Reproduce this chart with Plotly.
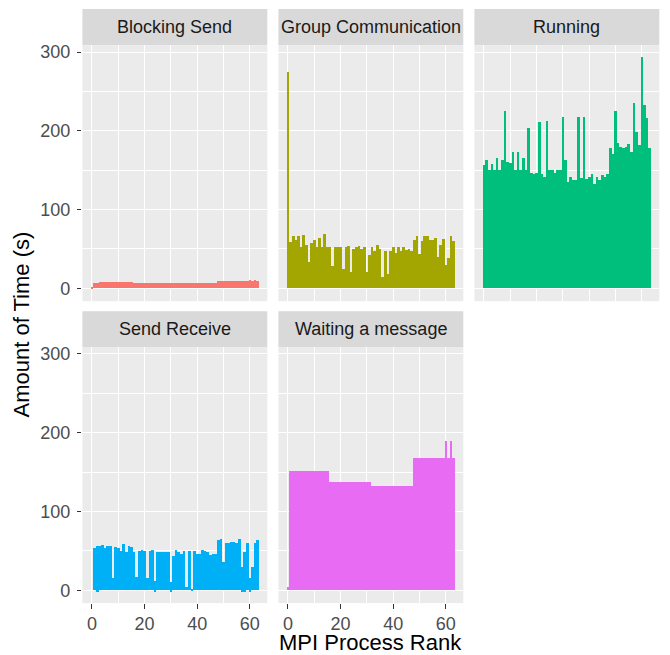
import plotly.graph_objects as go

ranks = list(range(64))

panel_titles = ["Blocking Send", "Group Communication", "Running", "Send Receive", "Waiting a message"]
panel_colors = ["#F8766D", "#A3A500", "#00BF7D", "#00B0F6", "#E76BF3"]

blocking_send = [0.8, 7.0, 7.0, 8.4, 8.4, 8.4, 8.4, 8.4, 8.4, 8.4, 8.4, 8.4, 8.4, 8.4, 8.4, 8.4,
                 7.0, 7.0, 7.0, 7.0, 7.0, 7.0, 7.0, 7.0, 7.0, 7.0, 7.0, 7.0, 7.0, 7.0, 7.0, 7.0,
                 7.0, 7.0, 7.0, 7.0, 7.0, 7.0, 7.0, 7.0, 7.0, 7.0, 7.0, 7.0, 7.0, 7.0, 7.0, 7.0,
                 9.7, 9.7, 9.7, 9.7, 9.7, 9.7, 9.7, 9.7, 9.7, 9.7, 9.7, 9.7, 11.0, 9.7, 11.0, 9.7]

group_communication = [275, 59, 67, 62, 67, 53, 68, 55, 33, 58, 62, 53, 64, 53, 69, 53,
                       52, 28, 52, 53, 52, 24, 53, 54, 21, 50, 52, 54, 50, 53, 21, 43,
                       52, 47, 55, 50, 14, 48, 18, 48, 52, 45, 53, 47, 52, 49, 50, 47,
                       62, 67, 44, 60, 66, 66, 62, 62, 64, 40, 55, 63, 30, 39, 66, 60]

running = [156, 163, 150, 158, 150, 166, 150, 163, 225, 161, 159, 173, 150, 173, 150, 166,
           150, 203, 147, 145, 146, 211, 145, 142, 213, 150, 150, 147, 150, 150, 217, 163,
           135, 142, 137, 137, 218, 140, 218, 139, 141, 145, 132, 141, 137, 144, 141, 145,
           178, 171, 225, 184, 179, 178, 180, 183, 173, 235, 199, 182, 294, 233, 216, 178]

send_receive = [0, 54, 56.5, 56.5, 57.8, 54, 56.5, 56.5, 16, 55, 54, 50, 59, 49, 56.5, 55,
                49, 17, 50, 51.5, 50, 15, 50, 51.5, 12, 48, 48, 48, 48, 48, 10, 44,
                51.5, 48, 46, 50, 3.6, 50, 2.2, 50, 46, 46, 51.5, 50, 49, 45, 46, 46,
                64, 65, 36, 60, 60, 61.6, 61.6, 60, 65, 29, 49, 60, 15, 30, 60, 64]

send_receive_neg = [0, 0, -1.4, 0, 0, 0, 0, 0, 0, 0, 0, 0, 0, 0, 0, 0,
                    0, 0, 0, 0, 0, 0, 0, 0, -1.4, 0, 0, 0, 0, 0, -1.4, 0,
                    0, 0, 0, 0, 0, 0, 0, 0, 0, 0, 0, 0, 0, 0, 0, 0,
                    0, 0, 0, 0, 0, 0, 0, 0, 0, -1.4, -1.4, 0, -1.4, 0, 0, 0]

waiting = [4.6, 152, 152, 152, 152, 152, 152, 152, 152, 152, 152, 152, 152, 152, 152, 152,
           138, 138, 138, 138, 138, 138, 138, 138, 138, 138, 138, 138, 138, 138, 138, 138,
           132, 132, 132, 132, 132, 132, 132, 132, 132, 132, 132, 132, 132, 132, 132, 132,
           168.5, 168.5, 168.5, 168.5, 168.5, 168.5, 168.5, 168.5, 168.5, 168.5, 168.5, 168.5,
           190, 168.5, 190, 168.5]

x_ticks = [0, 20, 40, 60]
y_ticks = [0, 100, 200, 300]

W, H = 670, 655
def px(x):
    return x / W
def py(y):
    return 1 - y / H

col_dom = [(82.4, 267.3), (278.4, 463.3), (474.4, 659.3)]
row_dom = [(42.3, 299.6), (345.6, 602.9)]
strip_dom = [(6.0, 42.3), (309.7, 345.6)]

positions = [(0, 0), (0, 1), (0, 2), (1, 0), (1, 1)]
series = [blocking_send, group_communication, running, send_receive, waiting]

fig = go.Figure()
layout = dict(
    width=W, height=H,
    margin=dict(l=0, r=0, t=0, b=0),
    paper_bgcolor="white",
    plot_bgcolor="#EBEBEB",
    barmode="relative",
    showlegend=False,
    font=dict(family="Liberation Sans, Arial, sans-serif", color="#4D4D4D"),
)
shapes = []
annotations = []

for i, (r, c) in enumerate(positions):
    k = "" if i == 0 else str(i + 1)
    xa, ya = "x" + k, "y" + k
    fig.add_trace(go.Bar(x=ranks, y=series[i], width=1.0, marker_color=panel_colors[i],
                         marker_line_width=0, xaxis=xa, yaxis=ya, hoverinfo="x+y"))
    if i == 3:
        fig.add_trace(go.Bar(x=ranks, y=send_receive_neg, width=1.0, marker_color=panel_colors[i],
                             marker_line_width=0, xaxis=xa, yaxis=ya, hoverinfo="x+y"))
    show_x = r == 1
    show_y = c == 0
    layout["xaxis" + k] = dict(
        domain=[px(col_dom[c][0]), px(col_dom[c][1])],
        anchor=ya, range=[-3.645, 66.645], tickvals=x_ticks,
        showgrid=True, gridcolor="white", gridwidth=1.4,
        minor=dict(tickvals=[10, 30, 50], showgrid=True, gridcolor="white", gridwidth=0.7),
        zeroline=False, showline=False,
        showticklabels=show_x, ticks="outside" if show_x else "",
        ticklen=4.5, tickwidth=1.2, tickcolor="#333333",
        tickfont=dict(size=18, color="#4D4D4D"), fixedrange=True,
    )
    layout["yaxis" + k] = dict(
        domain=[py(row_dom[r][1]), py(row_dom[r][0])],
        anchor=xa, range=[-16.3, 308.8], tickvals=y_ticks,
        showgrid=True, gridcolor="white", gridwidth=1.4,
        minor=dict(tickvals=[50, 150, 250], showgrid=True, gridcolor="white", gridwidth=0.7),
        zeroline=False, showline=False,
        showticklabels=show_y, ticks="outside" if show_y else "",
        ticklen=4.5, tickwidth=1.2, tickcolor="#333333",
        tickfont=dict(size=18, color="#4D4D4D"), ticklabelstandoff=3, fixedrange=True,
    )
    shapes.append(dict(type="rect", xref="paper", yref="paper",
                       x0=px(col_dom[c][0]), x1=px(col_dom[c][1]),
                       y0=py(strip_dom[r][1]), y1=py(strip_dom[r][0]),
                       fillcolor="#D9D9D9", line=dict(width=0), layer="below"))
    annotations.append(dict(text=panel_titles[i], xref="paper", yref="paper",
                            x=px((col_dom[c][0] + col_dom[c][1]) / 2),
                            y=py((strip_dom[r][0] + strip_dom[r][1]) / 2),
                            xanchor="center", yanchor="middle", showarrow=False,
                            font=dict(size=18, color="#1A1A1A")))

annotations.append(dict(text="Amount of Time (s)", xref="paper", yref="paper",
                        x=px(22), y=py(323), textangle=-90, xanchor="center", yanchor="middle",
                        showarrow=False, font=dict(size=22, color="black")))
annotations.append(dict(text="MPI Process Rank", xref="paper", yref="paper",
                        x=px((82.4 + 659.3) / 2), y=py(642), xanchor="center", yanchor="middle",
                        showarrow=False, font=dict(size=22, color="black")))

layout["shapes"] = shapes
layout["annotations"] = annotations
fig.update_layout(**layout)
fig.write_html(
    "out.html", config={"displayModeBar": False},
    post_script=(
        "document.body.style.margin='0';document.body.style.overflow='hidden';"
        "document.querySelectorAll('.bars path').forEach(function(p){p.style.shapeRendering='crispEdges';});"
    ),
)
